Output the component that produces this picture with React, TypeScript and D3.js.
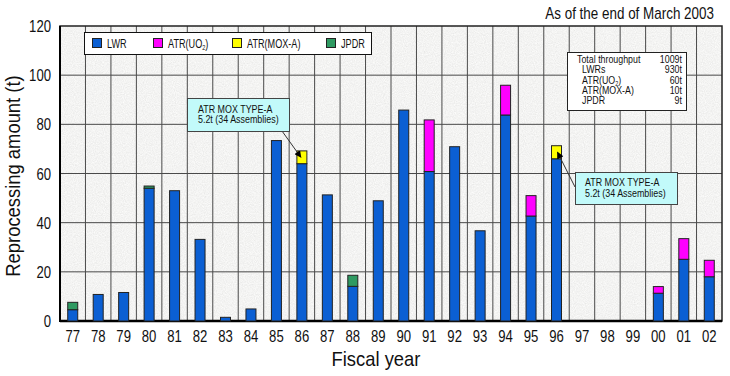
import React from "react";
import * as d3 from "d3";

const years = ["77","78","79","80","81","82","83","84","85","86","87","88","89","90","91","92","93","94","95","96","97","98","99","00","01","02"];
const lwr =    [4.6, 10.8, 11.6, 54.0, 53.0, 33.2, 1.5, 4.9, 73.4, 64.0, 51.3, 14.1, 48.9, 85.8, 60.8, 70.9, 36.7, 83.8, 42.7, 66.0, 0, 0, 0, 11.3, 25.1, 18.0];
const atrUO2 = [0, 0, 0, 0, 0, 0, 0, 0, 0, 0, 0, 0, 0, 0, 21.0, 0, 0, 12.1, 8.3, 0, 0, 0, 0, 2.7, 8.4, 6.7];
const atrMOX = [0, 0, 0, 0, 0, 0, 0, 0, 0, 5.2, 0, 0, 0, 0, 0, 0, 0, 0, 0, 5.3, 0, 0, 0, 0, 0, 0];
const jpdr =   [3.0, 0, 0, 0.9, 0, 0, 0, 0, 0, 0, 0, 4.5, 0, 0, 0, 0, 0, 0, 0, 0, 0, 0, 0, 0, 0, 0];
const yTicks = [0, 20, 40, 60, 80, 100, 120];
const seriesKeys = ["LWR", "ATR(UO2)", "ATR(MOX-A)", "JPDR"];
const seriesColors = ["#0b5fd3", "#ff00ff", "#ffff00", "#2f9a62"];
const summaryLabels = ["Total throughput", "LWRs", "ATR(UO2)", "ATR(MOX-A)", "JPDR"];
const summaryValues = ["1009t", "930t", "60t", "10t", "9t"];
const noteLines = ["ATR MOX TYPE-A", "5.2t (34 Assemblies)"];

const FONT = "'Liberation Sans', Arial, sans-serif";

function NText({ text, x, y, size, sx = 0.8, anchor = "start", rotate = 0 }:
  { text: string; x: number; y: number; size: number; sx?: number; anchor?: string; rotate?: number }) {
  const tr = `translate(${x},${y})${rotate ? ` rotate(${rotate})` : ""} scale(${sx},1)`;
  if (text.includes("UO2")) {
    const [a, b] = text.split("UO2");
    return (
      <text transform={tr} fontSize={size} textAnchor={anchor as any} fill="#111">
        {a + "UO"}
        <tspan fontSize={size * 0.62} dy={2}>2</tspan>
        <tspan dy={-2}>{b}</tspan>
      </text>
    );
  }
  return <text transform={tr} fontSize={size} textAnchor={anchor as any} fill="#111">{text}</text>;
}

export default function App() {
  const left = 60, right = 722, top = 26, bottom = 321;
  const x = d3.scaleBand<string>().domain(years).range([left, right]).padding(0);
  const y = d3.scaleLinear().domain([0, 120]).range([bottom, top]);
  const rows = years.map((yr, i) => ({ yr, "LWR": lwr[i], "ATR(UO2)": atrUO2[i], "ATR(MOX-A)": atrMOX[i], "JPDR": jpdr[i] }));
  const stacked = d3.stack<any>().keys(seriesKeys)(rows);
  const barW = 10;
  const bw = x.bandwidth();
  const cx = (yr: string) => (x(yr) as number) + bw / 2;

  const i86 = years.indexOf("86");
  const i96 = years.indexOf("96");
  const mox86Mid = y(lwr[i86] + atrMOX[i86] / 2);
  const mox96Mid = y(lwr[i96] + atrMOX[i96] / 2);

  return (
    <svg width={730} height={376} style={{ position: "absolute", left: 0, top: 0, background: "#fff" }} fontFamily={FONT}>
      <defs>
        <filter id="noise" x="0" y="0" width="100%" height="100%">
          <feTurbulence type="fractalNoise" baseFrequency="0.9" numOctaves="2" seed="4" result="t" />
          <feColorMatrix in="t" type="saturate" values="0" result="g" />
          <feComponentTransfer in="g">
            <feFuncR type="linear" slope="0.3" intercept="0.75" />
            <feFuncG type="linear" slope="0.3" intercept="0.75" />
            <feFuncB type="linear" slope="0.3" intercept="0.74" />
            <feFuncA type="table" tableValues="1 1" />
          </feComponentTransfer>
        </filter>
        <marker id="arrow" viewBox="0 0 10 10" refX="9" refY="5" markerWidth="7" markerHeight="7" orient="auto" markerUnits="userSpaceOnUse">
          <path d="M0,0 L10,5 L0,10 z" fill="#000" />
        </marker>
      </defs>

      {/* plot background */}
      <rect x={left} y={top} width={right - left} height={bottom - top} fill="#e2e2e2" />
      <rect x={left} y={top} width={right - left} height={bottom - top} filter="url(#noise)" />

      {/* grid */}
      {yTicks.filter(t => t > 0 && t < 120).map(t => (
        <line key={"h" + t} x1={left} x2={right} y1={y(t)} y2={y(t)} stroke="#4a4a4a" strokeWidth={1} />
      ))}
      {years.slice(1).map(yr => (
        <line key={"v" + yr} x1={x(yr)} x2={x(yr)} y1={top} y2={bottom} stroke="#4a4a4a" strokeWidth={1} />
      ))}

      {/* frame */}
      <rect x={left} y={top} width={right - left} height={bottom - top} fill="none" stroke="#222" strokeWidth={1.5} />
      <line x1={left} x2={left} y1={top} y2={bottom + 1} stroke="#000" strokeWidth={2} />
      <line x1={left} x2={right} y1={bottom} y2={bottom} stroke="#000" strokeWidth={2.5} />

      {/* bars */}
      {stacked.map((s, si) => (
        <g key={s.key}>
          {s.map((d: any) => {
            const v = d[1] - d[0];
            if (v <= 0) return null;
            return (
              <rect key={d.data.yr} x={cx(d.data.yr) - barW / 2} width={barW}
                y={y(d[1])} height={y(d[0]) - y(d[1])}
                fill={seriesColors[si]} stroke="#222" strokeWidth={1} />
            );
          })}
        </g>
      ))}

      {/* y ticks */}
      {yTicks.map(t => (
        <NText key={"yt" + t} text={String(t)} x={51} y={y(t) + 6} size={16} sx={0.82} anchor="end" />
      ))}
      {/* x ticks */}
      {years.map(yr => (
        <NText key={"xt" + yr} text={yr} x={cx(yr)} y={342} size={16} sx={0.82} anchor="middle" />
      ))}

      {/* axis titles */}
      <NText text="Reprocessing amount (t)" x={20} y={176} rotate={-90} size={20} sx={0.92} anchor="middle" />
      <NText text="Fiscal year" x={376} y={366} size={20} sx={0.92} anchor="middle" />
      <NText text="As of the end of March 2003" x={714} y={19} size={16} sx={0.84} anchor="end" />

      {/* legend */}
      <rect x={84.5} y={32.5} width={287} height={22} fill="#fff" stroke="#111" strokeWidth={1} />
      {seriesKeys.map((k, i) => {
        const lx = [92, 153, 232, 326][i];
        return (
          <g key={"lg" + k}>
            <rect x={lx + 0.5} y={38.5} width={9} height={9} fill={seriesColors[i]} stroke="#222" strokeWidth={1} />
            <NText text={k} x={lx + 15} y={48} size={12} sx={0.76} />
          </g>
        );
      })}

      {/* summary box */}
      <rect x={567.5} y={52.5} width={119} height={58} fill="#fff" stroke="#222" strokeWidth={1} />
      {summaryLabels.map((l, i) => (
        <g key={"sm" + i}>
          <NText text={l} x={i === 0 ? 577 : 582} y={63 + i * 10.3} size={10.8} sx={0.82} />
          <NText text={summaryValues[i]} x={682} y={63 + i * 10.3} size={10.8} sx={0.82} anchor="end" />
        </g>
      ))}

      {/* annotation 1 (FY86) */}
      <line x1={282} y1={131} x2={cx("86") - 1} y2={mox86Mid} stroke="#333" strokeWidth={1} markerEnd="url(#arrow)" />
      <rect x={187.5} y={98.5} width={102} height={33} fill="#c2fafa" stroke="#444" strokeWidth={1} />
      {noteLines.map((t, i) => (
        <NText key={"n1" + i} text={t} x={198} y={112.5 + i * 10.8} size={11} sx={0.81} />
      ))}

      {/* annotation 2 (FY96) */}
      <line x1={575} y1={187} x2={cx("96") + 1} y2={mox96Mid} stroke="#333" strokeWidth={1} markerEnd="url(#arrow)" />
      <rect x={575.5} y={172.5} width={102} height={32} fill="#c2fafa" stroke="#444" strokeWidth={1} />
      {noteLines.map((t, i) => (
        <NText key={"n2" + i} text={t} x={585} y={186 + i * 10.8} size={11} sx={0.81} />
      ))}
    </svg>
  );
}
